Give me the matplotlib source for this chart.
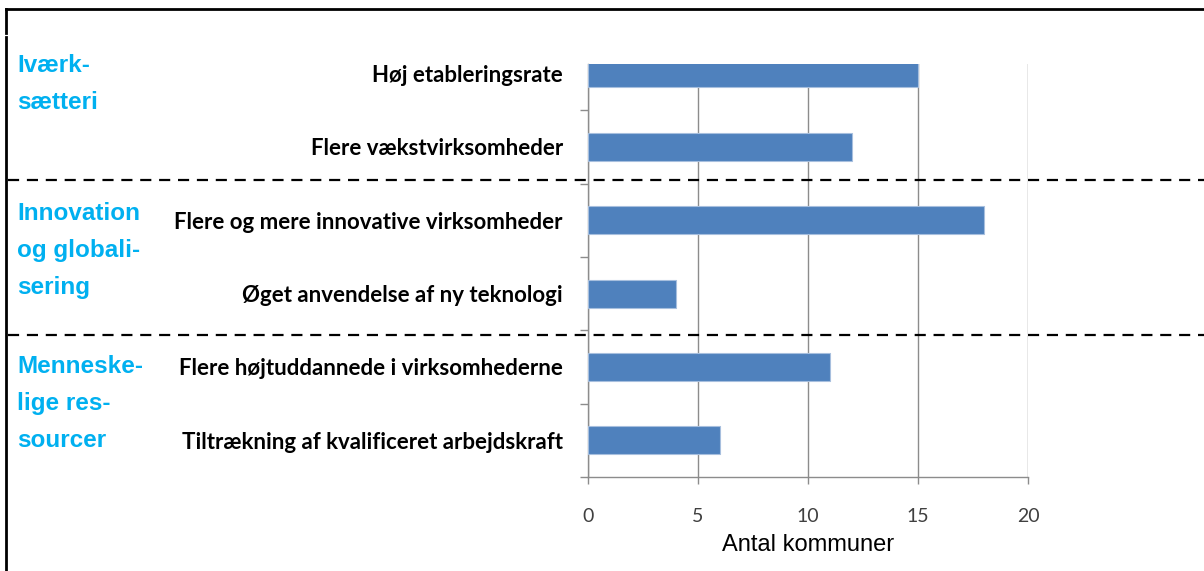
import matplotlib
matplotlib.use('Agg')
import matplotlib.pyplot as plt
from matplotlib.lines import Line2D

# Data
categories = [
    'Høj etableringsrate',
    'Flere vækstvirksomheder',
    'Flere og mere innovative virksomheder',
    'Øget anvendelse af ny teknologi',
    'Flere højtuddannede i virksomhederne',
    'Tiltrækning af kvalificeret arbejdskraft',
]
values = [15, 12, 18, 4, 11, 6]
x_ticks = [0, 5, 10, 15, 20]
x_label = 'Antal kommuner'

group_labels = [
    ['Iværk-', 'sætteri'],
    ['Innovation', 'og globali-', 'sering'],
    ['Menneske-', 'lige res-', 'sourcer'],
]

W, H = 1204, 571
BAR = '#4F81BD'
BLUE = '#00B0F0'
GRID = '#8C8C8C'

fig = plt.figure(figsize=(W / 100, H / 100), dpi=100)
fig.patch.set_facecolor('white')

# plot area in pixel units -> figure fractions
left, right, top, bottom = 588, 1028, 64, 477
ax = fig.add_axes([left / W, (H - bottom) / H, (right - left) / W, (bottom - top) / H])

pos = list(range(len(categories)))
ax.barh(pos, values, height=0.38, color=BAR, edgecolor='#A7BFDE', linewidth=0.8, zorder=3)

ax.set_xlim(0, 20)
ax.set_ylim(len(categories) - 0.5, -0.13)

ax.set_xticks(x_ticks)
ax.set_xticklabels([str(t) for t in x_ticks], fontfamily='Lato', fontsize=14, color='#404040')
ax.tick_params(axis='x', direction='out', length=5, width=1, color=GRID, pad=17)
ax.xaxis.grid(True, color=GRID, linewidth=1, zorder=0)
ax.set_axisbelow(True)

# y ticks between categories, labels on minor ticks at category centres
ax.set_yticks([p + 0.5 for p in pos])
ax.set_yticklabels([])
ax.set_yticks(pos, minor=True)
ax.set_yticklabels(categories, minor=True, fontfamily='Lato', fontweight='bold',
                   fontsize=16, color='black')
ax.tick_params(axis='y', which='major', direction='out', length=6, width=1, color=GRID)
ax.tick_params(axis='y', which='minor', length=0, pad=18)

for s in ['top', 'right']:
    ax.spines[s].set_visible(False)
for s in ['left', 'bottom']:
    ax.spines[s].set_color(GRID)
    ax.spines[s].set_linewidth(1)

ax.set_xlabel(x_label, fontfamily='Liberation Sans', fontsize=17, color='black', labelpad=7)

# group labels on the left
starts = [72, 220, 373]
for lines, y0 in zip(group_labels, starts):
    for i, line in enumerate(lines):
        fig.text(17 / W, (H - (y0 + i * 37)) / H, line, color=BLUE, fontsize=17.5,
                 fontweight='bold', fontfamily='Liberation Sans', va='baseline', ha='left')

# dashed separators
for yp in [180, 335]:
    fig.add_artist(Line2D([8 / W, 1], [(H - yp) / H] * 2, color='black',
                          linewidth=1.6, linestyle=(0, (5, 3.5))))

# frame lines
fig.add_artist(Line2D([6 / W, 1], [(H - 8.7) / H] * 2, color='black', linewidth=2))
fig.add_artist(Line2D([6 / W] * 2, [(H - 8.7) / H, (H - 33) / H], color='black', linewidth=2))
fig.add_artist(Line2D([6 / W] * 2, [(H - 37) / H, 0], color='black', linewidth=2))

fig.savefig('out.png', dpi=100)
